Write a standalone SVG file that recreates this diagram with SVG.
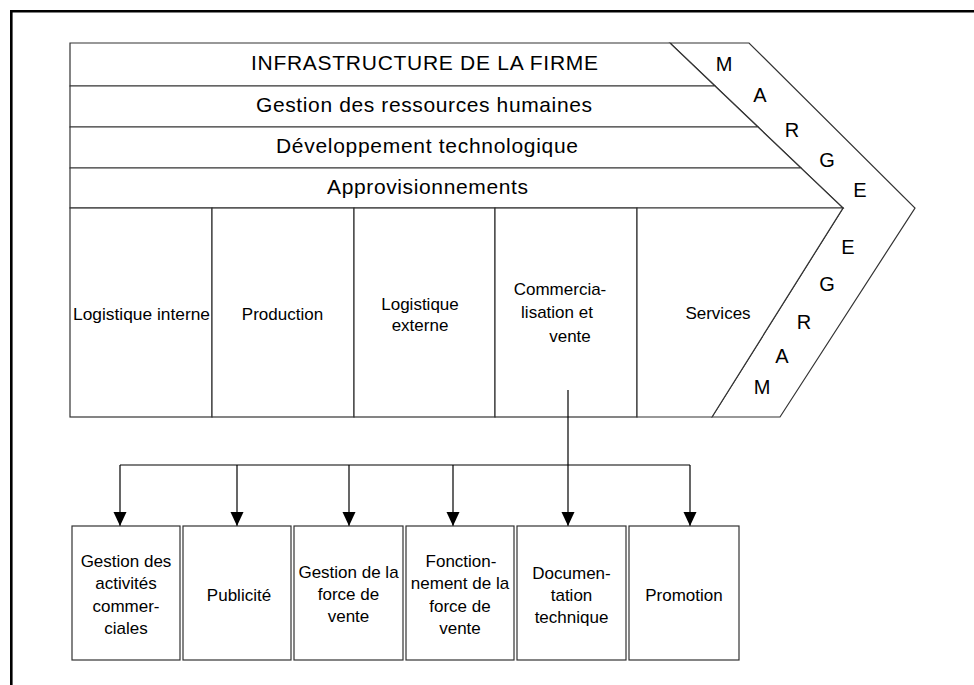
<svg xmlns="http://www.w3.org/2000/svg" width="974" height="685" viewBox="0 0 974 685">
<style>
.s{fill:#fff;stroke:#333;stroke-width:1.2}
.c{fill:none;stroke:#000;stroke-width:1.2}
.t{font-family:"Liberation Sans",Arial,sans-serif;fill:#000;text-anchor:middle}
.big{font-size:21px}
.med{font-size:17px}
.m{font-size:20px}
</style>
<defs>
<marker id="ar" markerUnits="userSpaceOnUse" markerWidth="15" markerHeight="14" refX="14" refY="6.5" orient="auto">
<path d="M0,0 L14,6.5 L0,13 z" fill="#000"/>
</marker>
</defs>
<rect width="974" height="685" fill="#fff"/>
<path d="M11.3,685 V11.3 H974" fill="none" stroke="#000" stroke-width="2.6"/>

<g id="marge">
<polygon class="s" points="670,43 749,43 915,208 780,417 712,417 843,208"/>
<text class="t m" x="724" y="71">M</text>
<text class="t m" x="760" y="102">A</text>
<text class="t m" x="792" y="137">R</text>
<text class="t m" x="827" y="167">G</text>
<text class="t m" x="860" y="197">E</text>
<text class="t m" x="848" y="254">E</text>
<text class="t m" x="827" y="291">G</text>
<text class="t m" x="804" y="329">R</text>
<text class="t m" x="782" y="363">A</text>
<text class="t m" x="762" y="394">M</text>
</g>

<g id="infrastructure">
<polygon class="s" points="70,43 670,43 715,86 70,86"/>
<text class="t big" x="424.5" y="70" textLength="347" lengthAdjust="spacing">INFRASTRUCTURE DE LA FIRME</text>
</g>
<g id="grh">
<polygon class="s" points="70,86 715,86 758,127 70,127"/>
<text class="t big" x="424" y="112" textLength="336" lengthAdjust="spacing">Gestion des ressources humaines</text>
</g>
<g id="dev">
<polygon class="s" points="70,127 758,127 801,168 70,168"/>
<text class="t big" x="427" y="153" textLength="302" lengthAdjust="spacing">Développement technologique</text>
</g>
<g id="appro">
<polygon class="s" points="70,168 801,168 843,208 70,208"/>
<text class="t big" x="427.5" y="194" textLength="201" lengthAdjust="spacing">Approvisionnements</text>
</g>

<g id="log-int">
<rect class="s" x="70" y="208" width="142" height="209"/>
<text class="t med" x="141.5" y="320" textLength="137" lengthAdjust="spacingAndGlyphs">Logistique interne</text>
</g>
<g id="production">
<rect class="s" x="212" y="208" width="142" height="209"/>
<text class="t med" x="282.5" y="320">Production</text>
</g>
<g id="log-ext">
<rect class="s" x="354" y="208" width="141" height="209"/>
<text class="t med" x="420" y="310">Logistique</text>
<text class="t med" x="420" y="331">externe</text>
</g>
<g id="commercialisation">
<rect class="s" x="495" y="208" width="142" height="209"/>
<text class="t med" x="560" y="295">Commercia-</text>
<text class="t med" x="557" y="318">lisation et</text>
<text class="t med" x="570" y="342">vente</text>
</g>
<g id="services">
<polygon class="s" points="637,208 843,208 712,417 637,417"/>
<text class="t med" x="718" y="319">Services</text>
</g>

<g id="connectors">
<path class="c" d="M568,390 V526" marker-end="url(#ar)"/>
<path class="c" d="M120,465 H690"/>
<path class="c" d="M120,465 V526" marker-end="url(#ar)"/>
<path class="c" d="M237,465 V526" marker-end="url(#ar)"/>
<path class="c" d="M349,465 V526" marker-end="url(#ar)"/>
<path class="c" d="M453,465 V526" marker-end="url(#ar)"/>
<path class="c" d="M690,465 V526" marker-end="url(#ar)"/>
</g>

<g id="gestion-activites">
<rect class="s" x="72" y="526" width="108" height="134"/>
<text class="t med" x="126" y="567">Gestion des</text>
<text class="t med" x="126" y="589">activités</text>
<text class="t med" x="126" y="612">commer-</text>
<text class="t med" x="126" y="634">ciales</text>
</g>
<g id="publicite">
<rect class="s" x="183" y="526" width="108" height="134"/>
<text class="t med" x="239" y="601">Publicité</text>
</g>
<g id="gestion-force">
<rect class="s" x="294" y="526" width="109" height="134"/>
<text class="t med" x="348.5" y="578">Gestion de la</text>
<text class="t med" x="348.5" y="600">force de</text>
<text class="t med" x="348.5" y="622">vente</text>
</g>
<g id="fonctionnement">
<rect class="s" x="406" y="526" width="108" height="134"/>
<text class="t med" x="461" y="567">Fonction-</text>
<text class="t med" x="460" y="589">nement de la</text>
<text class="t med" x="460" y="612">force de</text>
<text class="t med" x="460" y="634">vente</text>
</g>
<g id="documentation">
<rect class="s" x="517" y="526" width="109" height="134"/>
<text class="t med" x="571.5" y="579">Documen-</text>
<text class="t med" x="571.5" y="601">tation</text>
<text class="t med" x="571.5" y="623">technique</text>
</g>
<g id="promotion">
<rect class="s" x="629" y="526" width="110" height="134"/>
<text class="t med" x="684" y="601">Promotion</text>
</g>
</svg>
